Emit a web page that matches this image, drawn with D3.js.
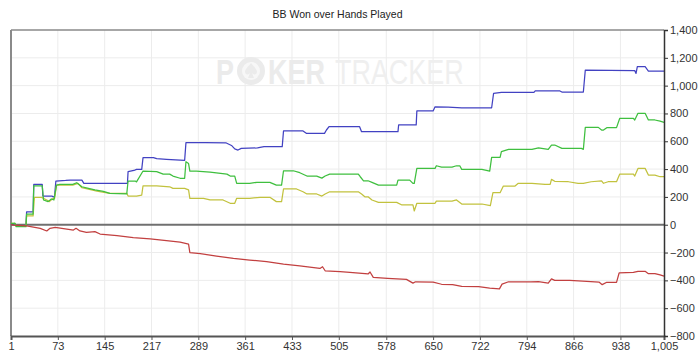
<!DOCTYPE html>
<html>
<head>
<meta charset="utf-8">
<script src="https://cdn.jsdelivr.net/npm/d3@7"></script>
<style>
  html, body { margin: 0; padding: 0; background: #fff; }
  svg { display: block; }
  text { font-family: "Liberation Sans", Arial, sans-serif; }
</style>
</head>
<body>
<svg id="chart" width="700" height="357"></svg>
<script>
// ---------- DATA ----------
const title = "BB Won over Hands Played";
const xTickValues = [1, 73, 145, 217, 289, 361, 433, 505, 578, 650, 722, 794, 866, 938, 1005];
const yTickValues = [-800, -600, -400, -200, 0, 200, 400, 600, 800, 1000, 1200, 1400];

// Blue series (hand, BB)
const blueHands = [1, 7, 9, 24, 25, 35, 36, 49, 50, 64, 66, 68, 70, 85, 92, 110, 113, 180, 181, 190, 194, 202, 204, 220, 225, 240, 268, 270, 300, 332, 340, 345, 350, 355, 380, 390, 418, 420, 450, 455, 483, 486, 490, 537, 540, 596, 597, 624, 625, 650, 653, 673, 694, 740, 743, 755, 805, 807, 845, 848, 881, 884, 960, 962, 964, 976, 981, 1005];
const blueValues = [0, 10, -7, -7, 93, 93, 290, 290, 206, 206, 200, 206, 314, 318, 321, 321, 297, 297, 381, 390, 398, 398, 482, 482, 475, 470, 463, 590, 590, 588, 570, 545, 537, 549, 552, 561, 561, 674, 674, 657, 657, 681, 705, 705, 669, 669, 717, 717, 818, 818, 848, 845, 841, 841, 945, 952, 952, 962, 962, 954, 954, 1112, 1108, 1088, 1136, 1136, 1105, 1105];

// Green series
const greenHands = [1, 7, 9, 24, 25, 35, 36, 49, 51, 58, 63, 67, 71, 76, 96, 102, 110, 120, 130, 143, 153, 179, 181, 192, 194, 204, 225, 235, 245, 250, 261, 268, 270, 274, 276, 286, 307, 333, 338, 345, 348, 368, 379, 399, 409, 417, 420, 435, 445, 456, 471, 479, 484, 491, 535, 538, 543, 550, 556, 566, 594, 596, 614, 619, 621, 625, 653, 655, 663, 679, 686, 691, 694, 725, 737, 740, 753, 755, 766, 802, 812, 827, 832, 837, 848, 878, 881, 884, 904, 909, 912, 917, 932, 937, 958, 960, 965, 976, 981, 991, 999, 1005];
const greenValues = [10, 10, -14, -14, 77, 77, 280, 280, 178, 166, 185, 178, 285, 290, 290, 302, 273, 262, 250, 240, 226, 222, 314, 314, 308, 386, 382, 364, 364, 350, 334, 334, 453, 440, 386, 386, 378, 364, 350, 350, 297, 297, 305, 305, 285, 285, 388, 388, 374, 350, 350, 335, 350, 364, 364, 345, 316, 316, 305, 285, 285, 321, 321, 297, 297, 405, 405, 424, 414, 414, 424, 424, 398, 398, 386, 484, 484, 525, 542, 542, 553, 542, 573, 573, 549, 549, 542, 700, 700, 681, 681, 698, 698, 765, 765, 753, 801, 801, 753, 753, 745, 736];

// Yellow series
const yellowHands = [1, 7, 9, 24, 25, 35, 37, 48, 56, 60, 66, 68, 71, 96, 104, 110, 133, 153, 179, 181, 194, 202, 204, 225, 245, 250, 268, 274, 276, 297, 307, 327, 338, 345, 348, 368, 384, 399, 409, 417, 420, 440, 450, 456, 471, 479, 484, 491, 535, 540, 545, 550, 556, 566, 594, 602, 619, 621, 625, 653, 655, 679, 686, 694, 725, 738, 742, 753, 758, 776, 781, 802, 822, 830, 832, 837, 858, 873, 881, 893, 909, 912, 919, 932, 937, 958, 960, 965, 976, 981, 991, 999, 1005];
const yellowValues = [10, 10, -10, -10, 63, 63, 197, 197, 178, 166, 190, 190, 285, 285, 297, 266, 242, 226, 226, 206, 206, 213, 280, 280, 273, 261, 261, 250, 190, 190, 178, 178, 154, 154, 190, 190, 197, 197, 166, 166, 257, 257, 237, 221, 221, 206, 221, 237, 237, 221, 201, 201, 178, 161, 161, 142, 142, 99, 154, 154, 170, 170, 178, 149, 149, 137, 230, 230, 278, 278, 298, 298, 290, 290, 326, 312, 309, 298, 298, 309, 316, 298, 309, 309, 364, 364, 350, 405, 405, 357, 357, 345, 345];

// Red series
const redHands = [1, 5, 25, 46, 56, 61, 69, 97, 101, 107, 117, 130, 138, 164, 189, 215, 240, 261, 274, 276, 292, 317, 343, 368, 394, 420, 445, 476, 480, 484, 507, 522, 550, 553, 558, 580, 609, 619, 623, 650, 663, 680, 694, 720, 737, 752, 756, 766, 800, 812, 827, 832, 837, 860, 880, 905, 910, 917, 932, 936, 958, 965, 976, 981, 991, 999, 1005];
const redValues = [0, -2, -9, -26, -45, -26, -19, -38, -26, -45, -55, -50, -67, -79, -93, -101, -115, -125, -139, -201, -208, -225, -242, -254, -266, -283, -295, -314, -302, -331, -338, -342, -354, -340, -378, -385, -393, -420, -410, -413, -428, -430, -443, -445, -455, -461, -427, -410, -410, -409, -420, -389, -400, -400, -405, -412, -431, -414, -414, -347, -343, -335, -335, -352, -352, -360, -369];

// ---------- CHART ----------
const svg = d3.select("#chart");
const mLeft = 11, mRight = 664, mTop = 30, mBottom = 336;

const x = d3.scaleLinear().domain([1, 1005]).range([mLeft, mRight]);
const y = d3.scaleLinear().domain([-800, 1400]).range([mBottom, mTop]);

// gridlines
const grid = svg.append("g");
grid.selectAll("line.vg").data(xTickValues.slice(1, -1)).enter().append("line")
  .attr("x1", d => x(d)).attr("x2", d => x(d))
  .attr("y1", mTop).attr("y2", mBottom)
  .attr("stroke", "#ececec").attr("stroke-width", 1);
grid.selectAll("line.hg").data(yTickValues.filter(v => v !== 0 && v !== -800 && v !== 1400)).enter().append("line")
  .attr("x1", mLeft).attr("x2", mRight)
  .attr("y1", d => y(d)).attr("y2", d => y(d))
  .attr("stroke", "#ececec").attr("stroke-width", 1);

// watermark: horizontally condensed pieces + chip
const wm = svg.append("g").attr("fill", "#ebebeb");
wm.append("circle").attr("cx", 251).attr("cy", 71).attr("r", 14);
wm.append("circle").attr("cx", 251).attr("cy", 71).attr("r", 9).attr("fill", "#f7f7f7");
wm.append("path").attr("d", "M251,63 C248,67 245,69 245,72 C245,75 249,75 250,73 L248,78 L254,78 L252,73 C253,75 257,75 257,72 C257,69 254,67 251,63 Z").attr("fill", "#ebebeb");
const wmParts = [
  { t: "P", x: 216, w: "bold", f: "#ebebeb" },
  { t: "KER", x: 268, w: "bold", f: "#ebebeb" },
  { t: "TRACKER", x: 335, w: "normal", f: "#efefef" }
];
wmParts.forEach(p => {
  wm.append("text").attr("transform", `translate(${p.x},84) scale(0.77,1)`)
    .attr("font-size", 35).attr("font-weight", p.w).attr("fill", p.f).text(p.t);
});

// border / axes lines
svg.append("line").attr("x1", mLeft).attr("x2", mRight).attr("y1", mTop).attr("y2", mTop)
  .attr("stroke", "#8a8a8a").attr("stroke-width", 1.5);
svg.append("line").attr("x1", mLeft).attr("x2", mLeft).attr("y1", mTop).attr("y2", mBottom)
  .attr("stroke", "#8a8a8a").attr("stroke-width", 2);
// zero line
svg.append("line").attr("x1", mLeft).attr("x2", mRight).attr("y1", y(0)).attr("y2", y(0))
  .attr("stroke", "#707070").attr("stroke-width", 2);

// series
const line = d3.line().x(d => x(d[0])).y(d => y(d[1]));
const series = [
  { hands: blueHands, values: blueValues, color: "#4242c2" },
  { hands: yellowHands, values: yellowValues, color: "#c2c23e" },
  { hands: greenHands, values: greenValues, color: "#3fbf3f" },
  { hands: redHands, values: redValues, color: "#c24040" }
];
series.forEach(s => {
  svg.append("path")
    .datum(s.hands.map((h, i) => [h, s.values[i]]))
    .attr("fill", "none").attr("stroke", s.color).attr("stroke-width", 1.25)
    .attr("stroke-linejoin", "round")
    .attr("d", line);
});

// bottom axis
const xAxis = d3.axisBottom(x).tickValues(xTickValues).tickSize(4).tickPadding(2)
  .tickFormat(d3.format(","));
const gx = svg.append("g").attr("transform", `translate(0,${mBottom})`).call(xAxis);
gx.select(".domain").attr("stroke", "#555").attr("stroke-width", 2);
gx.selectAll(".tick line").attr("stroke", "#555");
gx.selectAll("text").attr("font-size", 11).attr("fill", "#333").attr("font-family", "Liberation Sans, Arial, sans-serif");

// right axis
const yAxis = d3.axisRight(y).tickValues(yTickValues).tickSize(4).tickPadding(2)
  .tickFormat(d3.format(","));
const gy = svg.append("g").attr("transform", `translate(${mRight},0)`).call(yAxis);
gy.select(".domain").attr("stroke", "#333").attr("stroke-width", 1.5);
gy.selectAll(".tick line").attr("stroke", "#333");
gy.selectAll("text").attr("font-size", 11).attr("fill", "#333").attr("font-family", "Liberation Sans, Arial, sans-serif");

// title
svg.append("text").attr("x", (mLeft + mRight) / 2).attr("y", 18)
  .attr("text-anchor", "middle").attr("font-size", 10.5).attr("fill", "#222")
  .text(title);
</script>
</body>
</html>
